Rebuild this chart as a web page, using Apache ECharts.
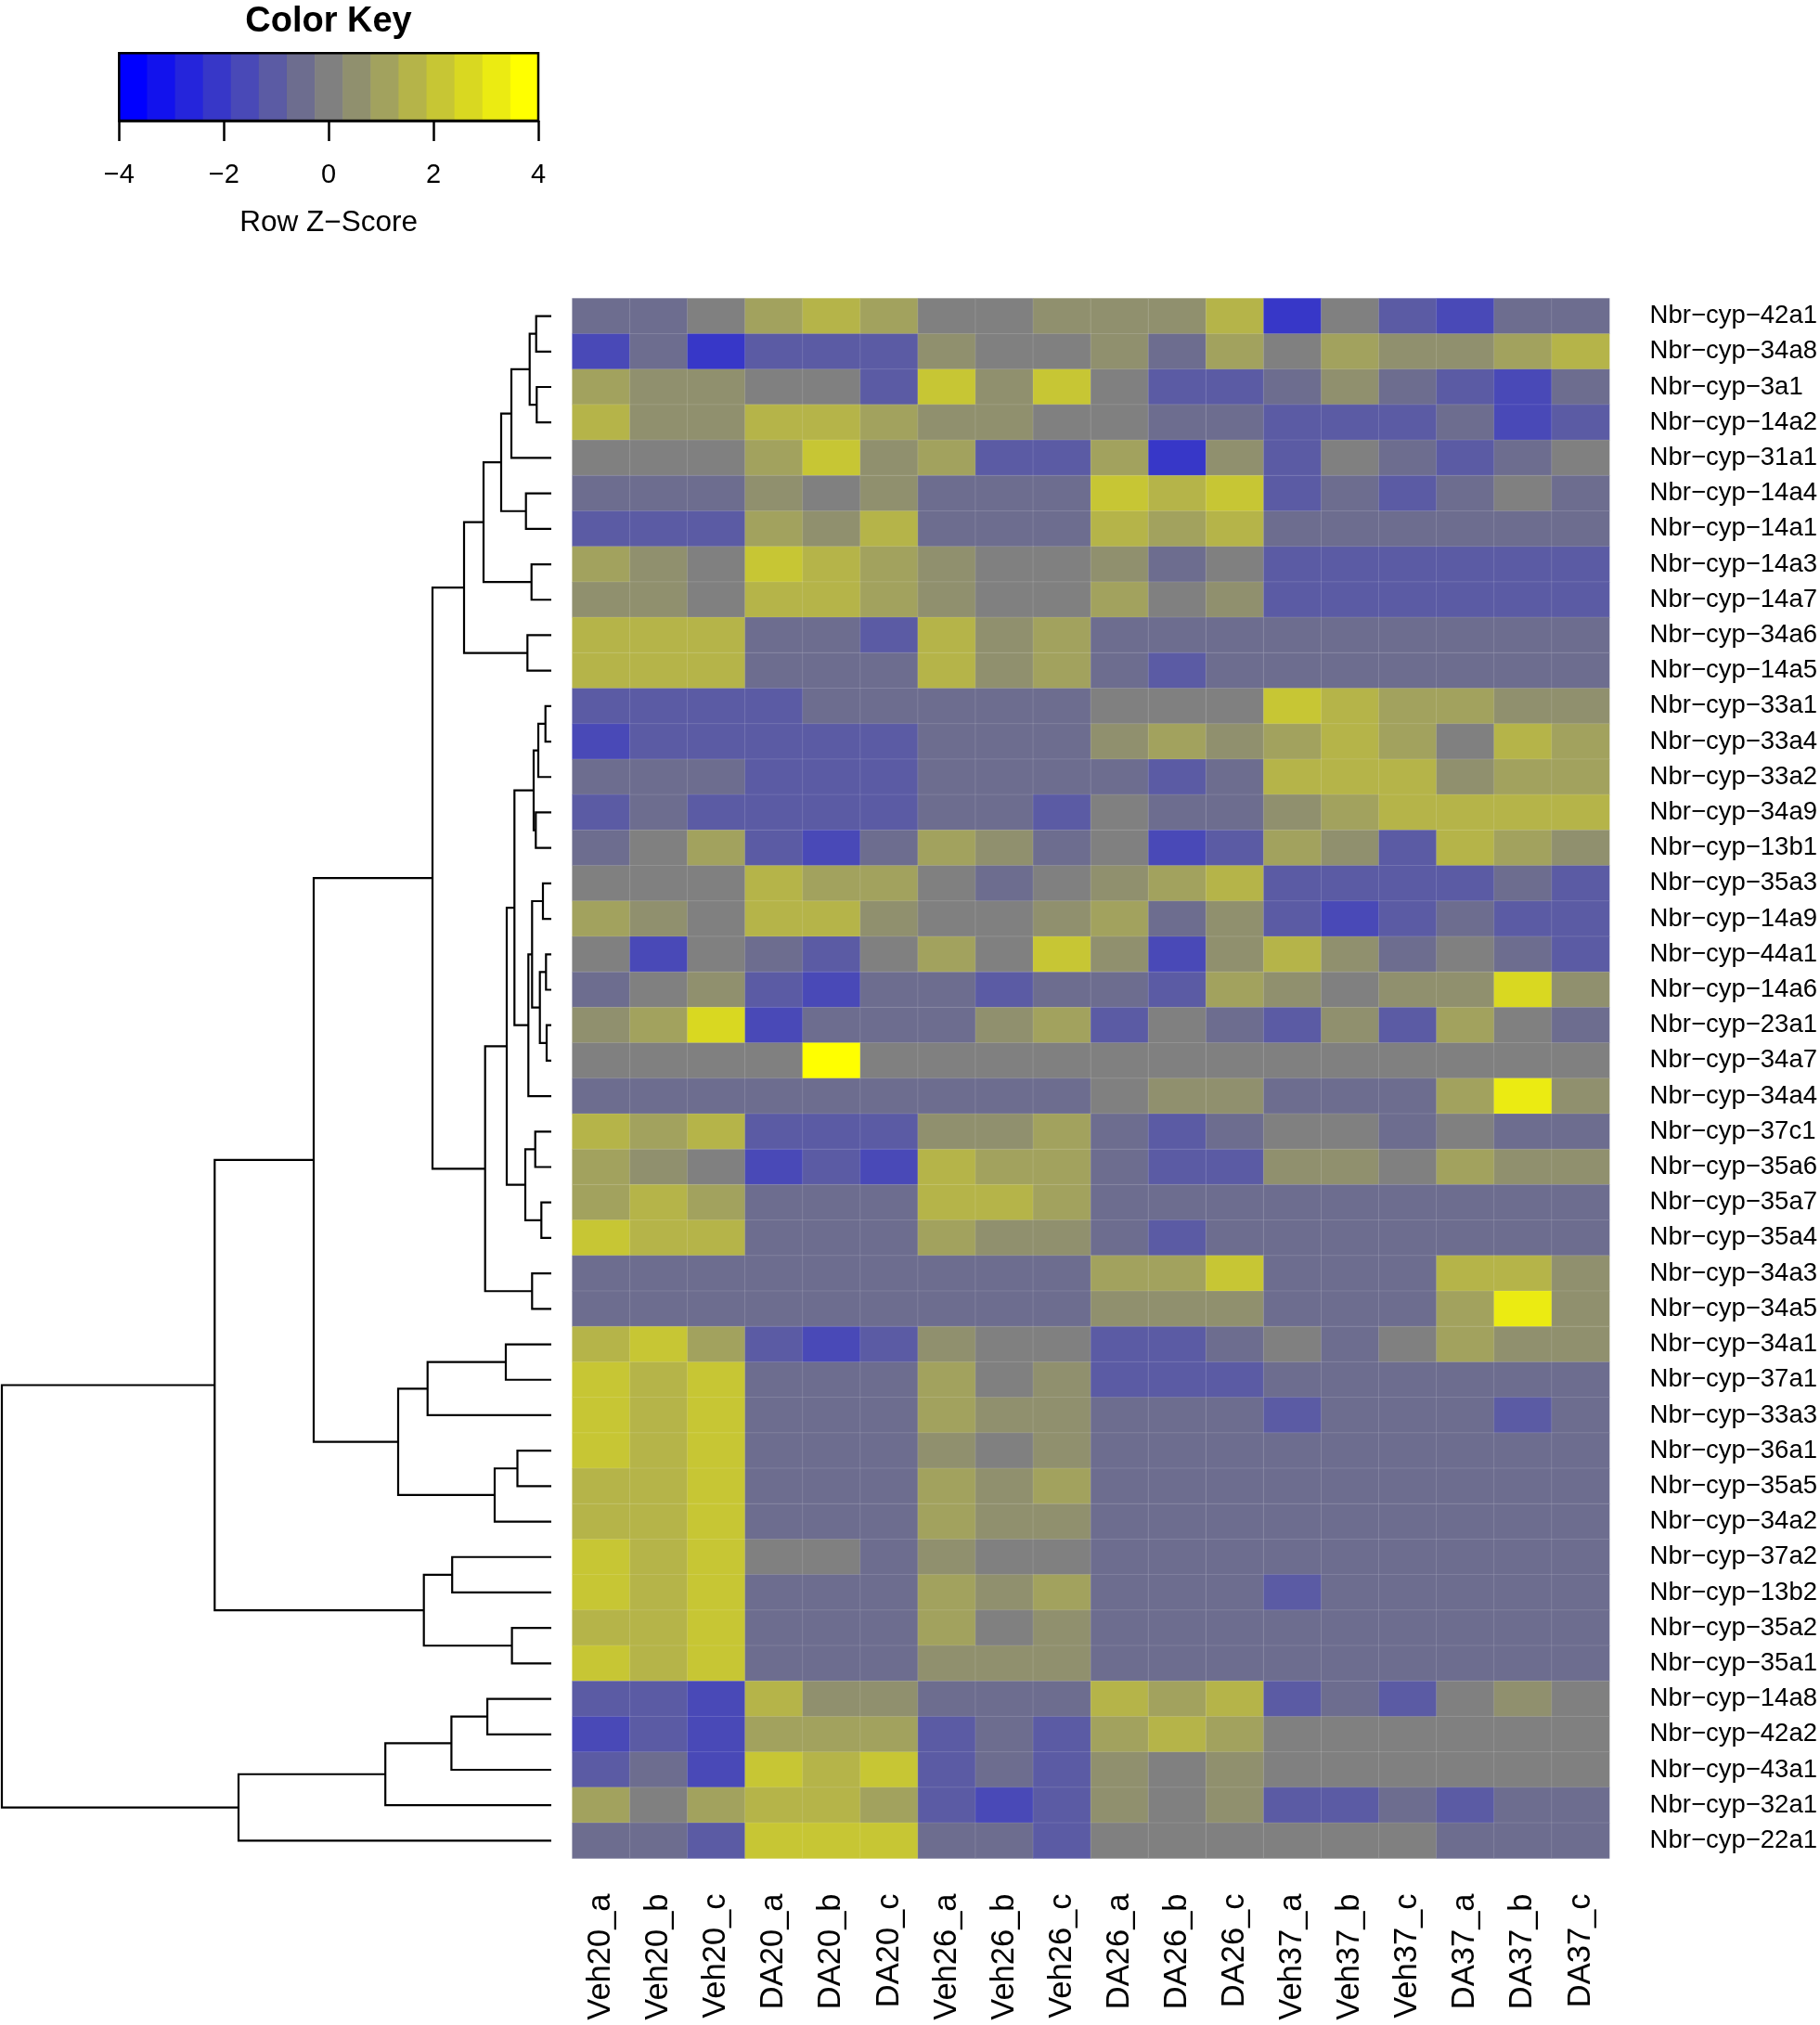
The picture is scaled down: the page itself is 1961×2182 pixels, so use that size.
<!DOCTYPE html>
<html><head><meta charset="utf-8">
<script src="https://cdn.jsdelivr.net/npm/echarts@6/dist/echarts.min.js"></script>
<style>html,body{margin:0;padding:0;background:#fff}#c{width:1961px;height:2182px}</style>
</head><body><div id="c"></div><script>
// ---------------- data ----------------
const samples = ['Veh20_a','Veh20_b','Veh20_c','DA20_a','DA20_b','DA20_c','Veh26_a','Veh26_b','Veh26_c',
                 'DA26_a','DA26_b','DA26_c','Veh37_a','Veh37_b','Veh37_c','DA37_a','DA37_b','DA37_c'];
const genes = ['Nbr−cyp−42a1','Nbr−cyp−34a8','Nbr−cyp−3a1','Nbr−cyp−14a2','Nbr−cyp−31a1','Nbr−cyp−14a4',
  'Nbr−cyp−14a1','Nbr−cyp−14a3','Nbr−cyp−14a7','Nbr−cyp−34a6','Nbr−cyp−14a5','Nbr−cyp−33a1','Nbr−cyp−33a4',
  'Nbr−cyp−33a2','Nbr−cyp−34a9','Nbr−cyp−13b1','Nbr−cyp−35a3','Nbr−cyp−14a9','Nbr−cyp−44a1','Nbr−cyp−14a6',
  'Nbr−cyp−23a1','Nbr−cyp−34a7','Nbr−cyp−34a4','Nbr−cyp−37c1','Nbr−cyp−35a6','Nbr−cyp−35a7','Nbr−cyp−35a4',
  'Nbr−cyp−34a3','Nbr−cyp−34a5','Nbr−cyp−34a1','Nbr−cyp−37a1','Nbr−cyp−33a3','Nbr−cyp−36a1','Nbr−cyp−35a5',
  'Nbr−cyp−34a2','Nbr−cyp−37a2','Nbr−cyp−13b2','Nbr−cyp−35a2','Nbr−cyp−35a1','Nbr−cyp−14a8','Nbr−cyp−42a2',
  'Nbr−cyp−43a1','Nbr−cyp−32a1','Nbr−cyp−22a1'];
// row z-scores (rows = genes in display order, columns = samples)
const zScores = [
 [-0.5,-0.5,0,1.1,1.6,1.1,0,0,0.5, 0.5,0.5,1.6,-2.1,0,-1.1,-1.6,-0.5,-0.5],
 [-1.6,-0.5,-2.1,-1.1,-1.1,-1.1,0.5,0,0, 0.5,-0.5,1.1,0,1.1,0.5,0.5,1.1,1.6],
 [1.1,0.5,0.5,0,0,-1.1,2.1,0.5,2.1, 0,-1.1,-1.1,-0.5,0.5,-0.5,-1.1,-1.6,-0.5],
 [1.6,0.5,0.5,1.6,1.6,1.1,0.5,0.5,0, 0,-0.5,-0.5,-1.1,-1.1,-1.1,-0.5,-1.6,-1.1],
 [0,0,0,1.1,2.1,0.5,1.1,-1.1,-1.1, 1.1,-2.1,0.5,-1.1,0,-0.5,-1.1,-0.5,0],
 [-0.5,-0.5,-0.5,0.5,0,0.5,-0.5,-0.5,-0.5, 2.1,1.6,2.1,-1.1,-0.5,-1.1,-0.5,0,-0.5],
 [-1.1,-1.1,-1.1,1.1,0.5,1.6,-0.5,-0.5,-0.5, 1.6,1.1,1.6,-0.5,-0.5,-0.5,-0.5,-0.5,-0.5],
 [1.1,0.5,0,2.1,1.6,1.1,0.5,0,0, 0.5,-0.5,0,-1.1,-1.1,-1.1,-1.1,-1.1,-1.1],
 [0.5,0.5,0,1.6,1.6,1.1,0.5,0,0, 1.1,0,0.5,-1.1,-1.1,-1.1,-1.1,-1.1,-1.1],
 [1.6,1.6,1.6,-0.5,-0.5,-1.1,1.6,0.5,1.1, -0.5,-0.5,-0.5,-0.5,-0.5,-0.5,-0.5,-0.5,-0.5],
 [1.6,1.6,1.6,-0.5,-0.5,-0.5,1.6,0.5,1.1, -0.5,-1.1,-0.5,-0.5,-0.5,-0.5,-0.5,-0.5,-0.5],
 [-1.1,-1.1,-1.1,-1.1,-0.5,-0.5,-0.5,-0.5,-0.5, 0,0,0,2.1,1.6,1.1,1.1,0.5,0.5],
 [-1.6,-1.1,-1.1,-1.1,-1.1,-1.1,-0.5,-0.5,-0.5, 0.5,1.1,0.5,1.1,1.6,1.1,0,1.6,1.1],
 [-0.5,-0.5,-0.5,-1.1,-1.1,-1.1,-0.5,-0.5,-0.5, -0.5,-1.1,-0.5,1.6,1.6,1.6,0.5,1.1,1.1],
 [-1.1,-0.5,-1.1,-1.1,-1.1,-1.1,-0.5,-0.5,-1.1, 0,-0.5,-0.5,0.5,1.1,1.6,1.6,1.6,1.6],
 [-0.5,0,1.1,-1.1,-1.6,-0.5,1.1,0.5,-0.5, 0,-1.6,-1.1,1.1,0.5,-1.1,1.6,1.1,0.5],
 [0,0,0,1.6,1.1,1.1,0,-0.5,0, 0.5,1.1,1.6,-1.1,-1.1,-1.1,-1.1,-0.5,-1.1],
 [1.1,0.5,0,1.6,1.6,0.5,0,0,0.5, 1.1,-0.5,0.5,-1.1,-1.6,-1.1,-0.5,-1.1,-1.1],
 [0,-1.6,0,-0.5,-1.1,0,1.1,0,2.1, 0.5,-1.6,0.5,1.6,0.5,-0.5,0,-0.5,-1.1],
 [-0.5,0,0.5,-1.1,-1.6,-0.5,-0.5,-1.1,-0.5, -0.5,-1.1,1.1,0.5,0,0.5,0.5,2.7,0.5],
 [0.5,1.1,2.7,-1.6,-0.5,-0.5,-0.5,0.5,1.1, -1.1,0,-0.5,-1.1,0.5,-1.1,1.1,0,-0.5],
 [0,0,0,0,3.7,0,0,0,0, 0,0,0,0,0,0,0,0,0],
 [-0.5,-0.5,-0.5,-0.5,-0.5,-0.5,-0.5,-0.5,-0.5, 0,0.5,0.5,-0.5,-0.5,-0.5,1.1,3.2,0.5],
 [1.6,1.1,1.6,-1.1,-1.1,-1.1,0.5,0.5,1.1, -0.5,-1.1,-0.5,0,0,-0.5,0,-0.5,-0.5],
 [1.1,0.5,0,-1.6,-1.1,-1.6,1.6,1.1,1.1, -0.5,-1.1,-1.1,0.5,0.5,0,1.1,0.5,0.5],
 [1.1,1.6,1.1,-0.5,-0.5,-0.5,1.6,1.6,1.1, -0.5,-0.5,-0.5,-0.5,-0.5,-0.5,-0.5,-0.5,-0.5],
 [2.1,1.6,1.6,-0.5,-0.5,-0.5,1.1,0.5,0.5, -0.5,-1.1,-0.5,-0.5,-0.5,-0.5,-0.5,-0.5,-0.5],
 [-0.5,-0.5,-0.5,-0.5,-0.5,-0.5,-0.5,-0.5,-0.5, 1.1,1.1,2.1,-0.5,-0.5,-0.5,1.6,1.6,0.5],
 [-0.5,-0.5,-0.5,-0.5,-0.5,-0.5,-0.5,-0.5,-0.5, 0.5,0.5,0.5,-0.5,-0.5,-0.5,1.1,3.2,0.5],
 [1.6,2.1,1.1,-1.1,-1.6,-1.1,0.5,0,0, -1.1,-1.1,-0.5,0,-0.5,0,1.1,0.5,0.5],
 [2.1,1.6,2.1,-0.5,-0.5,-0.5,1.1,0,0.5, -1.1,-1.1,-1.1,-0.5,-0.5,-0.5,-0.5,-0.5,-0.5],
 [2.1,1.6,2.1,-0.5,-0.5,-0.5,1.1,0.5,0.5, -0.5,-0.5,-0.5,-1.1,-0.5,-0.5,-0.5,-1.1,-0.5],
 [2.1,1.6,2.1,-0.5,-0.5,-0.5,0.5,0,0.5, -0.5,-0.5,-0.5,-0.5,-0.5,-0.5,-0.5,-0.5,-0.5],
 [1.6,1.6,2.1,-0.5,-0.5,-0.5,1.1,0.5,1.1, -0.5,-0.5,-0.5,-0.5,-0.5,-0.5,-0.5,-0.5,-0.5],
 [1.6,1.6,2.1,-0.5,-0.5,-0.5,1.1,0.5,0.5, -0.5,-0.5,-0.5,-0.5,-0.5,-0.5,-0.5,-0.5,-0.5],
 [2.1,1.6,2.1,0,0,-0.5,0.5,0,0, -0.5,-0.5,-0.5,-0.5,-0.5,-0.5,-0.5,-0.5,-0.5],
 [2.1,1.6,2.1,-0.5,-0.5,-0.5,1.1,0.5,1.1, -0.5,-0.5,-0.5,-1.1,-0.5,-0.5,-0.5,-0.5,-0.5],
 [1.6,1.6,2.1,-0.5,-0.5,-0.5,1.1,0,0.5, -0.5,-0.5,-0.5,-0.5,-0.5,-0.5,-0.5,-0.5,-0.5],
 [2.1,1.6,2.1,-0.5,-0.5,-0.5,0.5,0.5,0.5, -0.5,-0.5,-0.5,-0.5,-0.5,-0.5,-0.5,-0.5,-0.5],
 [-1.1,-1.1,-1.6,1.6,0.5,0.5,-0.5,-0.5,-0.5, 1.6,1.1,1.6,-1.1,-0.5,-1.1,0,0.5,0],
 [-1.6,-1.1,-1.6,1.1,1.1,1.1,-1.1,-0.5,-1.1, 1.1,1.6,1.1,0,0,0,0,0,0],
 [-1.1,-0.5,-1.6,2.1,1.6,2.1,-1.1,-0.5,-1.1, 0.5,0,0.5,0,0,0,0,0,0],
 [1.1,0,1.1,1.6,1.6,1.1,-1.1,-1.6,-1.1, 0.5,0,0.5,-1.1,-1.1,-0.5,-1.1,-0.5,-0.5],
 [-0.5,-0.5,-1.1,2.1,2.1,2.1,-0.5,-0.5,-1.1, 0,0,0,0,0,0,-0.5,-0.5,-0.5]
];
// row dendrogram, hclust style: negative = leaf (display position), positive = earlier merge; third = height
const merges = [
 [-1,-2,16.3],[-3,-4,15.7],[1,2,23.3],[3,-5,43],[-6,-7,27.3],[4,5,54],[-8,-9,21.3],[6,7,73],
 [-10,-11,25.7],[8,9,94],[-12,-13,6.3],[11,-14,14],[-15,-16,16.7],[12,13,19],[-17,-18,9],
 [-19,-20,5.7],[-21,-22,5],[16,17,12.3],[15,18,20.7],[19,-23,24.7],[14,20,39.7],[-24,-25,17.3],
 [-26,-27,10.7],[22,23,28],[21,24,48],[-28,-29,20.7],[25,26,71.3],[10,27,128],[-30,-31,49],
 [29,-32,133.3],[-33,-34,36.5],[31,-35,61],[30,32,165],[28,33,256],[-36,-37,106.8],[-38,-39,42.4],
 [35,36,137.3],[34,37,362.7],[-40,-41,68.9],[39,-42,107.6],[40,-43,178.8],[41,-44,337],[38,42,592]
];
// colour key: 15 equal bins from -4 to 4
const keyBreaks = [-4,-3.467,-2.933,-2.4,-1.867,-1.333,-0.8,-0.267,0.267,0.8,1.333,1.867,2.4,2.933,3.467,4];
const keyColors = ['#0000FF','#1212ED','#2525DB','#3737C8','#4949B7','#5B5BA4','#6D6D8F','#808080',
                   '#90906E','#A2A25E','#B5B449','#C7C634','#D9D821','#EBEB12','#FFFF00'];
const keyTicks = [-4,-2,0,2,4];

// ---------------- build ----------------
const FONT = '"Liberation Sans", Arial, Helvetica, sans-serif';
const heatData = [];
zScores.forEach((row, r) => row.forEach((v, c) => heatData.push([c, r, v])));

const nodeY = [], nodeH = [];
function pos(ref){ return ref < 0 ? {y: -ref - 0.5, h: 0} : {y: nodeY[ref-1], h: nodeH[ref-1]}; }
const dendroData = merges.map(([a, b, h], i) => {
  const pa = pos(a), pb = pos(b);
  nodeY[i] = (pa.y + pb.y) / 2; nodeH[i] = h;
  return [pa.h, pa.y, h, pb.y, pb.h];
});
const keyData = keyColors.map((c, i) => [keyBreaks[i], keyBreaks[i+1], i]);
const pieces = keyColors.map((c, i) => i < keyColors.length - 1
  ? {gte: keyBreaks[i], lt: keyBreaks[i+1], color: c}
  : {gte: keyBreaks[i], lte: keyBreaks[i+1], color: c});
const minus = v => String(v).replace('-', '\u2212');

const chart = echarts.init(document.getElementById('c'), null, {renderer: 'canvas'});
chart.setOption({
  animation: false,
  backgroundColor: '#fff',
  title: {text: 'Color Key', left: 354, top: 5, padding: 0, textAlign: 'center',
          textStyle: {fontFamily: FONT, fontSize: 38, fontWeight: 'bold', color: '#000'}},
  grid: [
    {left: 616.6, top: 321.5, width: 1119, height: 1681},
    {left: 2, top: 321.5, width: 592, height: 1681},
    {left: 128.3, top: 57.3, width: 451.7, height: 72.7}
  ],
  xAxis: [
    {gridIndex: 0, type: 'category', data: samples, position: 'bottom',
     axisLine: {show: false}, axisTick: {show: false}, splitLine: {show: false},
     axisLabel: {rotate: 90, margin: 38, fontSize: 34.5, color: '#000', fontFamily: FONT, interval: 0,
                 padding: [0, 0, 30, 0]}},
    {gridIndex: 1, type: 'value', min: 0, max: 592, inverse: true, show: false},
    {gridIndex: 2, type: 'value', min: keyTicks[0], max: keyTicks[keyTicks.length-1], interval: 2, position: 'bottom',
     splitLine: {show: false},
     axisLine: {show: true, lineStyle: {color: '#000', width: 2.5}},
     axisTick: {show: true, length: 22, lineStyle: {color: '#000', width: 2.5}},
     axisLabel: {margin: 44, fontSize: 29, color: '#000', fontFamily: FONT, formatter: minus},
     name: 'Row Z\u2212Score', nameLocation: 'middle', nameGap: 94,
     nameTextStyle: {fontSize: 31.5, color: '#000', fontFamily: FONT}}
  ],
  yAxis: [
    {gridIndex: 0, type: 'category', data: genes, inverse: true, position: 'right',
     axisLine: {show: false}, axisTick: {show: false}, splitLine: {show: false},
     axisLabel: {margin: 43.5, fontSize: 27.5, color: '#000', fontFamily: FONT, interval: 0}},
    {gridIndex: 1, type: 'value', min: 0, max: 44, inverse: true, show: false},
    {gridIndex: 2, type: 'value', min: 0, max: 1, show: false}
  ],
  visualMap: {type: 'piecewise', show: false, seriesIndex: 0, pieces: pieces},
  series: [
    {type: 'heatmap', xAxisIndex: 0, yAxisIndex: 0, data: heatData,
     itemStyle: {borderColor: 'rgba(255,255,255,0.13)', borderWidth: 1},
     emphasis: {disabled: true}},
    {type: 'custom', xAxisIndex: 1, yAxisIndex: 1, data: dendroData, clip: false, silent: true,
     renderItem: function (params, api) {
       const p1 = api.coord([api.value(0), api.value(1)]);
       const p2 = api.coord([api.value(2), api.value(1)]);
       const p3 = api.coord([api.value(2), api.value(3)]);
       const p4 = api.coord([api.value(4), api.value(3)]);
       return {type: 'polyline', shape: {points: [p1, p2, p3, p4]},
               style: {stroke: '#000', lineWidth: 2.2, fill: 'none'}};
     }},
    {type: 'custom', xAxisIndex: 2, yAxisIndex: 2, data: keyData, silent: true,
     renderItem: function (params, api) {
       const a = api.coord([api.value(0), 1]);
       const b = api.coord([api.value(1), 0]);
       return {type: 'rect', shape: {x: a[0], y: a[1], width: b[0] - a[0] + 0.6, height: b[1] - a[1]},
               style: {fill: keyColors[api.value(2)]}};
     }},
    {type: 'custom', xAxisIndex: 2, yAxisIndex: 2, data: [[keyTicks[0], keyTicks[keyTicks.length-1]]], silent: true, z: 5,
     renderItem: function (params, api) {
       const a = api.coord([api.value(0), 1]);
       const b = api.coord([api.value(1), 0]);
       return {type: 'rect', shape: {x: a[0], y: a[1], width: b[0] - a[0], height: b[1] - a[1]},
               style: {fill: 'none', stroke: '#000', lineWidth: 2.5}};
     }}
  ]
});
</script></body></html>
